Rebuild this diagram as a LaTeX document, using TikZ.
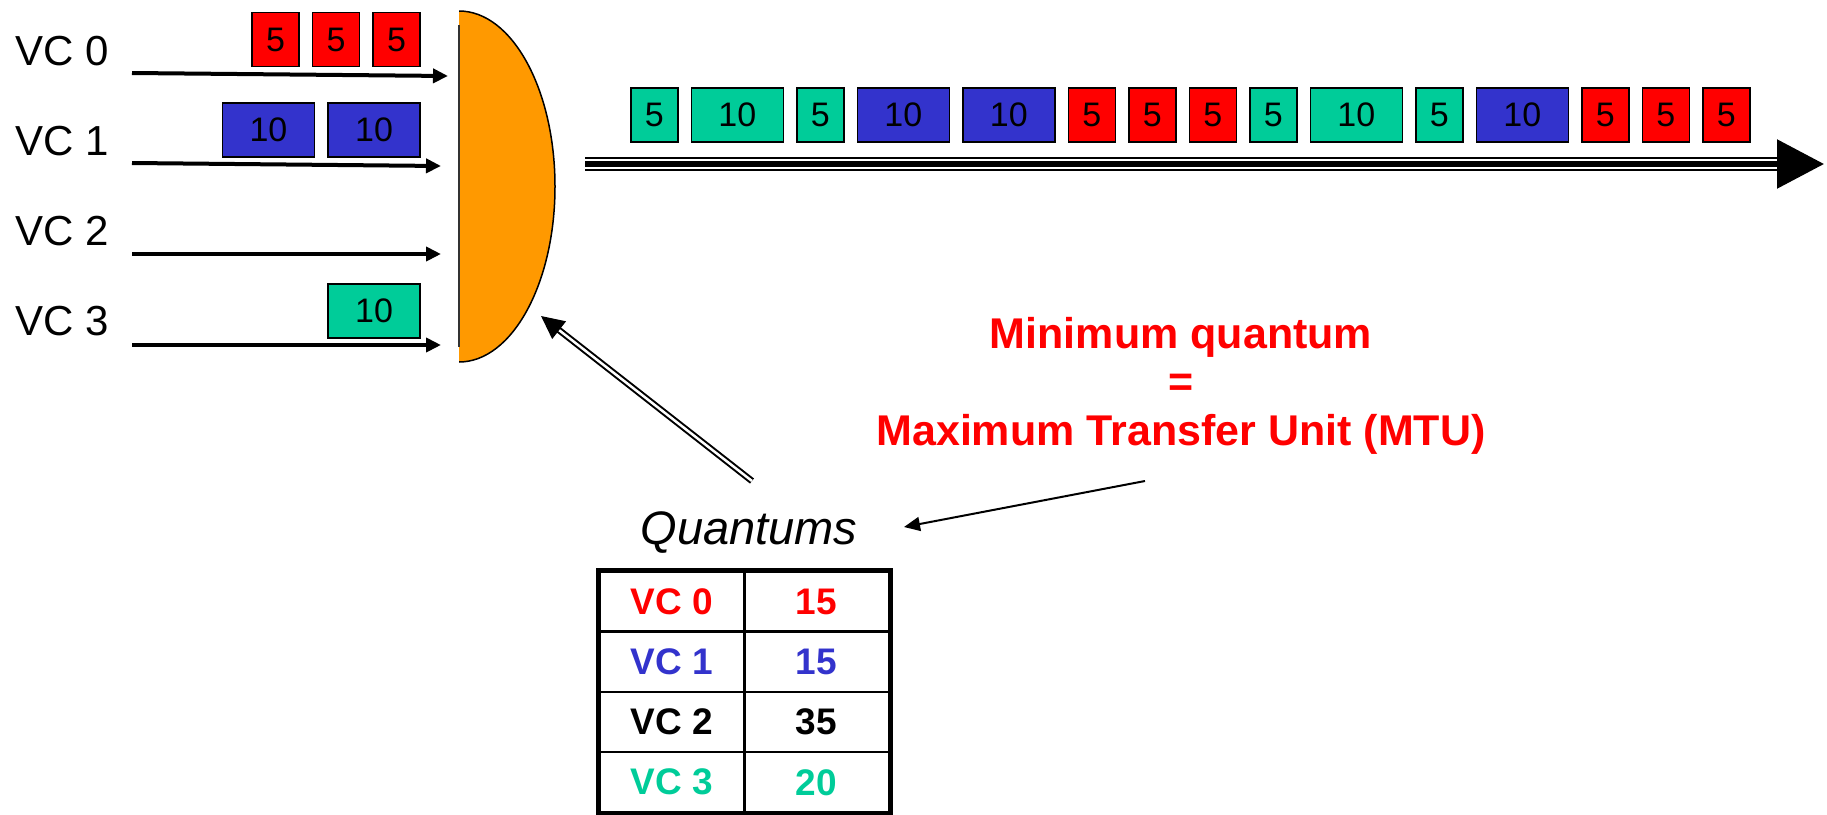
\documentclass[tikz,border=0pt]{standalone}
\usepackage{fontspec}
\setmainfont{Liberation Sans}
\usetikzlibrary{arrows.meta,positioning}

\definecolor{vcred}{HTML}{FF0000}
\definecolor{vcblue}{HTML}{3333CC}
\definecolor{vcgreen}{HTML}{00CC99}
\definecolor{schedorange}{HTML}{FF9900}

\tikzset{
    pkt/.style={draw, line width=1.5pt, minimum height=54pt, inner sep=0pt, font=\fontsize{34}{34}\selectfont},
    pkt5/.style={pkt, minimum width=47pt},
    pkt10/.style={pkt, minimum width=92pt},
    vclabel/.style={inner sep=0pt, font=\fontsize{42}{42}\selectfont},
    cell/.style={draw, line width=2.5pt, minimum width=144.5pt, minimum height=60.25pt, inner sep=0pt, font=\fontsize{37}{37}\selectfont\bfseries},
    feed/.style={line width=4pt, -{Triangle[length=15pt,width=14pt]}},
}

\begin{document}
\begin{tikzpicture}[x=1pt, y=-1pt]
    \useasboundingbox (0,0) rectangle (1827,814);

    % input queues
    \foreach \i in {0,...,3}{
        \node[vclabel, anchor=base west] (vc\i) at (15,{65+90.3*\i}) {VC \i};
    }
    \foreach \i/\ya/\xb/\yb in {0/73/448/76, 1/163/441/166, 2/254/441/254, 3/345/441/345}{
        \coordinate (in\i) at (132,\ya);
        \coordinate (sched\i) at (\xb,\yb);
        \draw[feed] (in\i) -- (sched\i);
    }

    \node[pkt5, fill=vcred] (q0c) at (396.5,39.5) {5};
    \node[pkt5, fill=vcred, left=12pt of q0c] (q0b) {5};
    \node[pkt5, fill=vcred, left=12pt of q0b] (q0a) {5};
    \node[pkt10, fill=vcblue] (q1b) at (374,130) {10};
    \node[pkt10, fill=vcblue, left=12pt of q1b] (q1a) {10};
    \node[pkt10, fill=vcgreen] (q3a) at (374,311) {10};

    % scheduler
    \coordinate (sched) at (459,186.5);
    \begin{scope}
        \clip (459,0) rectangle (600,400);
        \filldraw[fill=schedorange, line width=1.5pt] (sched) ellipse [x radius=96, y radius=175.5];
    \end{scope}
    \draw[line width=2pt, black!80] (459,25) -- (459,347);

    % output link
    \coordinate (out) at (585,164);
    \coordinate (outtip) at (1824,164);
    \draw[line width=14.3pt, shorten >=46pt] (out) -- (outtip);
    \draw[white, line width=10pt, shorten >=45pt] (out) -- (outtip);
    \draw[line width=5.7pt, -{Triangle[length=47pt,width=48pt]}] (out) -- (outtip);

    \node[pkt5, fill=vcgreen, anchor=west] (p1) at (630,115) {5};
    \foreach \w/\c [count=\i from 2, remember=\i as \prev (initially 1)] in
        {10/vcgreen, 5/vcgreen, 10/vcblue, 10/vcblue, 5/vcred, 5/vcred, 5/vcred,
         5/vcgreen, 10/vcgreen, 5/vcgreen, 10/vcblue, 5/vcred, 5/vcred, 5/vcred}{
        \node[pkt\w, fill=\c, right=12pt of p\prev] (p\i) {\w};
    }

    % quantum table
    \node[font=\fontsize{47}{47}\selectfont\itshape, anchor=base] (quant) at (749,544) {Quantums};
    \foreach \vc/\q/\col in {0/15/vcred, 1/15/vcblue, 2/35/black, 3/20/vcgreen}{
        \node[cell, text=\col] (name\vc) at (672,{601.5+60.25*\vc}) {VC \vc};
        \node[cell, text=\col] (val\vc) at (816.5,{601.5+60.25*\vc}) {\q};
    }
    \draw[line width=5pt] (name0.north west) rectangle (val3.south east);

    \coordinate (quanttail) at (752,481);
    \coordinate (schedin) at (541,316);
    \draw[line width=2pt, double, double distance=2.5pt, -{Triangle[length=23pt,width=22pt]}] (quanttail) -- (schedin);

    % MTU note
    \node[text=vcred, font=\fontsize{43}{48.5}\selectfont\bfseries, align=center] (mtu) at (1181,385.5)
        {Minimum quantum\\=\\Maximum Transfer Unit (MTU)};
    \coordinate (mtutail) at (1145,481);
    \coordinate (quanttip) at (904,527);
    \draw[line width=2pt, -{Triangle[length=16pt,width=14pt]}] (mtutail) -- (quanttip);
\end{tikzpicture}
\end{document}
